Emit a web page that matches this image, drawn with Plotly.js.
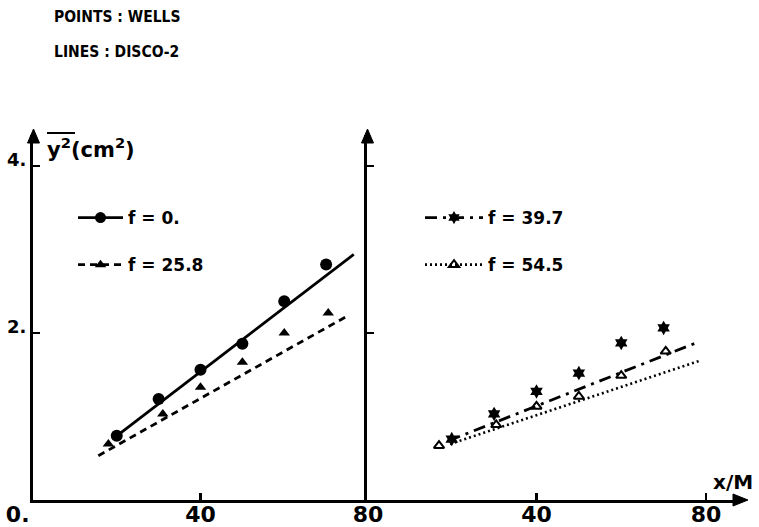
<!DOCTYPE html>
<html><head><meta charset="utf-8">
<script src="https://cdn.plot.ly/plotly-3.0.1.min.js"></script>
<style>body{margin:0;background:#fff}#chart{width:759px;height:527px}</style>
</head><body><div id="chart"></div>
<script>
// ---- data ----
const xWellsF0   = [20, 30, 40, 50, 60, 70];
const yWellsF0   = [0.77, 1.21, 1.56, 1.87, 2.38, 2.82];
const xWellsF258 = [18, 31, 40, 50, 60, 70.5];
const yWellsF258 = [0.67, 1.03, 1.35, 1.65, 2.00, 2.24];
const xDiscoF0   = [19, 76.6];
const yDiscoF0   = [0.73, 2.94];
const xDiscoF258 = [15.6, 74.6];
const yDiscoF258 = [0.53, 2.19];

const xWellsF397 = [20, 30, 40, 50, 60, 70];
const yWellsF397 = [0.73, 1.03, 1.30, 1.52, 1.88, 2.06];
const xWellsF545 = [17, 30.5, 40, 50, 60, 70.5];
const yWellsF545 = [0.65, 0.90, 1.12, 1.24, 1.49, 1.78];
const xDiscoF397 = [19.3, 77.6];
const yDiscoF397 = [0.71, 1.88];
const xDiscoF545 = [19.6, 78.7];
const yDiscoF545 = [0.67, 1.67];

const seriesNames = ['f = 0.', 'f = 25.8', 'f = 39.7', 'f = 54.5'];
const xTicksLeft = [0, 40, 80];
const xTickTextLeft = ['0.\u00a0\u00a0\u00a0\u00a0', '40', '80'];
const xTicksRight = [40, 80];
const xTickTextRight = ['40', '80'];
const yTicks = [2, 4];
const yTickText = ['2.', '4.'];
const header1 = 'POINTS : WELLS';
const header2 = 'LINES : DISCO-2';

// ---- styles ----
const K = '#000';
const W = 759, H = 527;
const px = v => v / W, py = v => 1 - v / H;
const bold = 'DejaVu Sans, Liberation Sans, sans-serif';

const traces = [
  {x: xDiscoF0, y: yDiscoF0, mode: 'lines', line: {color: K, width: 2.8}, showlegend: false, xaxis: 'x', yaxis: 'y'},
  {x: xDiscoF258, y: yDiscoF258, mode: 'lines', line: {color: K, width: 2.8, dash: '7px,5px'}, showlegend: false, xaxis: 'x', yaxis: 'y'},
  {x: xWellsF0, y: yWellsF0, mode: 'markers', marker: {symbol: 'circle', size: 12, color: K}, showlegend: false, xaxis: 'x', yaxis: 'y'},
  {x: xWellsF258, y: yWellsF258, mode: 'markers', marker: {symbol: 'triangle-up', size: 10, color: K}, showlegend: false, xaxis: 'x', yaxis: 'y'},
  {x: xDiscoF397, y: yDiscoF397, mode: 'lines', line: {color: K, width: 2.8, dash: '12px,6px,3px,6px'}, showlegend: false, xaxis: 'x2', yaxis: 'y2'},
  {x: xDiscoF545, y: yDiscoF545, mode: 'lines', line: {color: K, width: 2.6, dash: '2px,3px'}, showlegend: false, xaxis: 'x2', yaxis: 'y2'},
  {x: xWellsF397, y: yWellsF397, mode: 'markers', marker: {symbol: 'hexagram', size: 11, color: K}, showlegend: false, xaxis: 'x2', yaxis: 'y2'},
  {x: xWellsF545, y: yWellsF545, mode: 'markers', marker: {symbol: 'triangle-up-open', size: 9, color: K, line: {width: 2, color: K}}, showlegend: false, xaxis: 'x2', yaxis: 'y2'},
  // legend-only entries
  {x: [null], y: [null], name: seriesNames[0], mode: 'lines+markers', legend: 'legend', legendgroup: 'a',
   line: {color: K, width: 2.8}, marker: {symbol: 'circle', size: 11, color: K}, xaxis: 'x', yaxis: 'y'},
  {x: [null], y: [null], name: seriesNames[1], mode: 'lines+markers', legend: 'legend', legendgroup: 'b',
   line: {color: K, width: 2.8, dash: '7px,5px'}, marker: {symbol: 'triangle-up', size: 10, color: K}, xaxis: 'x', yaxis: 'y'},
  {x: [null], y: [null], name: seriesNames[2], mode: 'lines+markers', legend: 'legend2', legendgroup: 'c',
   line: {color: K, width: 2.8, dash: '12px,6px,3px,6px'}, marker: {symbol: 'hexagram', size: 10, color: K}, xaxis: 'x2', yaxis: 'y2'},
  {x: [null], y: [null], name: seriesNames[3], mode: 'lines+markers', legend: 'legend2', legendgroup: 'd',
   line: {color: K, width: 2.6, dash: '2px,3px'}, marker: {symbol: 'triangle-up-open', size: 9, color: K, line: {width: 2, color: K}}, xaxis: 'x2', yaxis: 'y2'}
];

const axBase = {
  showgrid: false, zeroline: false, showline: true, linecolor: K, linewidth: 3,
  ticks: 'inside', ticklen: 7, tickwidth: 2.5, tickcolor: K, fixedrange: true
};
const yTop = 4.37;
const layout = {
  width: W, height: H,
  margin: {l: 0, r: 0, t: 0, b: 0},
  paper_bgcolor: '#fff', plot_bgcolor: 'rgba(0,0,0,0)',
  font: {family: bold, color: K, weight: 'bold'},
  xaxis: Object.assign({}, axBase, {domain: [px(33), px(368)], range: [0, 80], anchor: 'y',
    tickmode: 'array', tickvals: xTicksLeft, ticktext: xTickTextLeft, ticklabelstandoff: -7,
    tickfont: {family: bold, size: 22, color: K, weight: 'bold'}}),
  yaxis: Object.assign({}, axBase, {domain: [1 - 500 / H, py(135)], range: [0, yTop], anchor: 'x',
    tickmode: 'array', tickvals: yTicks, ticktext: yTickText, ticklabelshift: -6,
    tickfont: {family: bold, size: 18, color: K, weight: 'bold'}}),
  xaxis2: Object.assign({}, axBase, {domain: [px(367), px(742)], range: [0, 88.5], anchor: 'y2',
    tickmode: 'array', tickvals: xTicksRight, ticktext: xTickTextRight, ticklabelstandoff: -7,
    tickfont: {family: bold, size: 22, color: K, weight: 'bold'}}),
  yaxis2: Object.assign({}, axBase, {domain: [1 - 500 / H, py(135)], range: [0, yTop], anchor: 'x2',
    tickmode: 'array', tickvals: yTicks, showticklabels: false}),
  legend: {x: px(73), y: py(200), xanchor: 'left', yanchor: 'top', bgcolor: 'rgba(0,0,0,0)',
    itemwidth: 45, traceorder: 'grouped', tracegroupgap: 22,
    font: {family: bold, size: 17, color: K, weight: 'bold'}},
  legend2: {x: px(420), y: py(200), xanchor: 'left', yanchor: 'top', bgcolor: 'rgba(0,0,0,0)',
    itemwidth: 58, traceorder: 'grouped', tracegroupgap: 22,
    font: {family: bold, size: 17, color: K, weight: 'bold'}},
  annotations: [
    {xref: 'paper', yref: 'paper', x: px(52), y: py(17), xanchor: 'left', yanchor: 'middle', showarrow: false,
     text: header1, font: {family: 'DejaVu Sans Condensed, Liberation Sans Narrow, DejaVu Sans, sans-serif', size: 15.5, color: K, weight: 'bold'}},
    {xref: 'paper', yref: 'paper', x: px(52), y: py(52), xanchor: 'left', yanchor: 'middle', showarrow: false,
     text: header2, font: {family: 'DejaVu Sans Condensed, Liberation Sans Narrow, DejaVu Sans, sans-serif', size: 15.5, color: K, weight: 'bold'}},
    {xref: 'paper', yref: 'paper', x: px(45), y: py(148), xanchor: 'left', yanchor: 'middle', showarrow: false,
     text: 'y<sup>2</sup>(cm<sup>2</sup>)', font: {family: bold, size: 21, color: K, weight: 'bold'}},
    {xref: 'paper', yref: 'paper', x: px(733), y: py(482), xanchor: 'center', yanchor: 'middle', showarrow: false,
     text: 'x/M', font: {family: bold, size: 20, color: K, weight: 'bold'}}
  ],
  shapes: [
    // overline on y^2
    {type: 'line', xref: 'paper', yref: 'paper', x0: px(47), x1: px(75), y0: py(133), y1: py(133), line: {color: K, width: 2}},
    // axis arrowheads
    {type: 'path', xref: 'paper', yref: 'paper', fillcolor: K, line: {color: K, width: 1},
     path: `M${px(27.5)},${py(143)} L${px(33.5)},${py(129)} L${px(39.5)},${py(143)} Z`},
    {type: 'path', xref: 'paper', yref: 'paper', fillcolor: K, line: {color: K, width: 1},
     path: `M${px(361.5)},${py(143)} L${px(367.5)},${py(129)} L${px(373.5)},${py(143)} Z`},
    {type: 'path', xref: 'paper', yref: 'paper', fillcolor: K, line: {color: K, width: 1},
     path: `M${px(733)},${py(494)} L${px(748)},${py(500)} L${px(733)},${py(506)} Z`}
  ]
};

Plotly.newPlot('chart', traces, layout, {displayModeBar: false, staticPlot: true});
</script></body></html>
